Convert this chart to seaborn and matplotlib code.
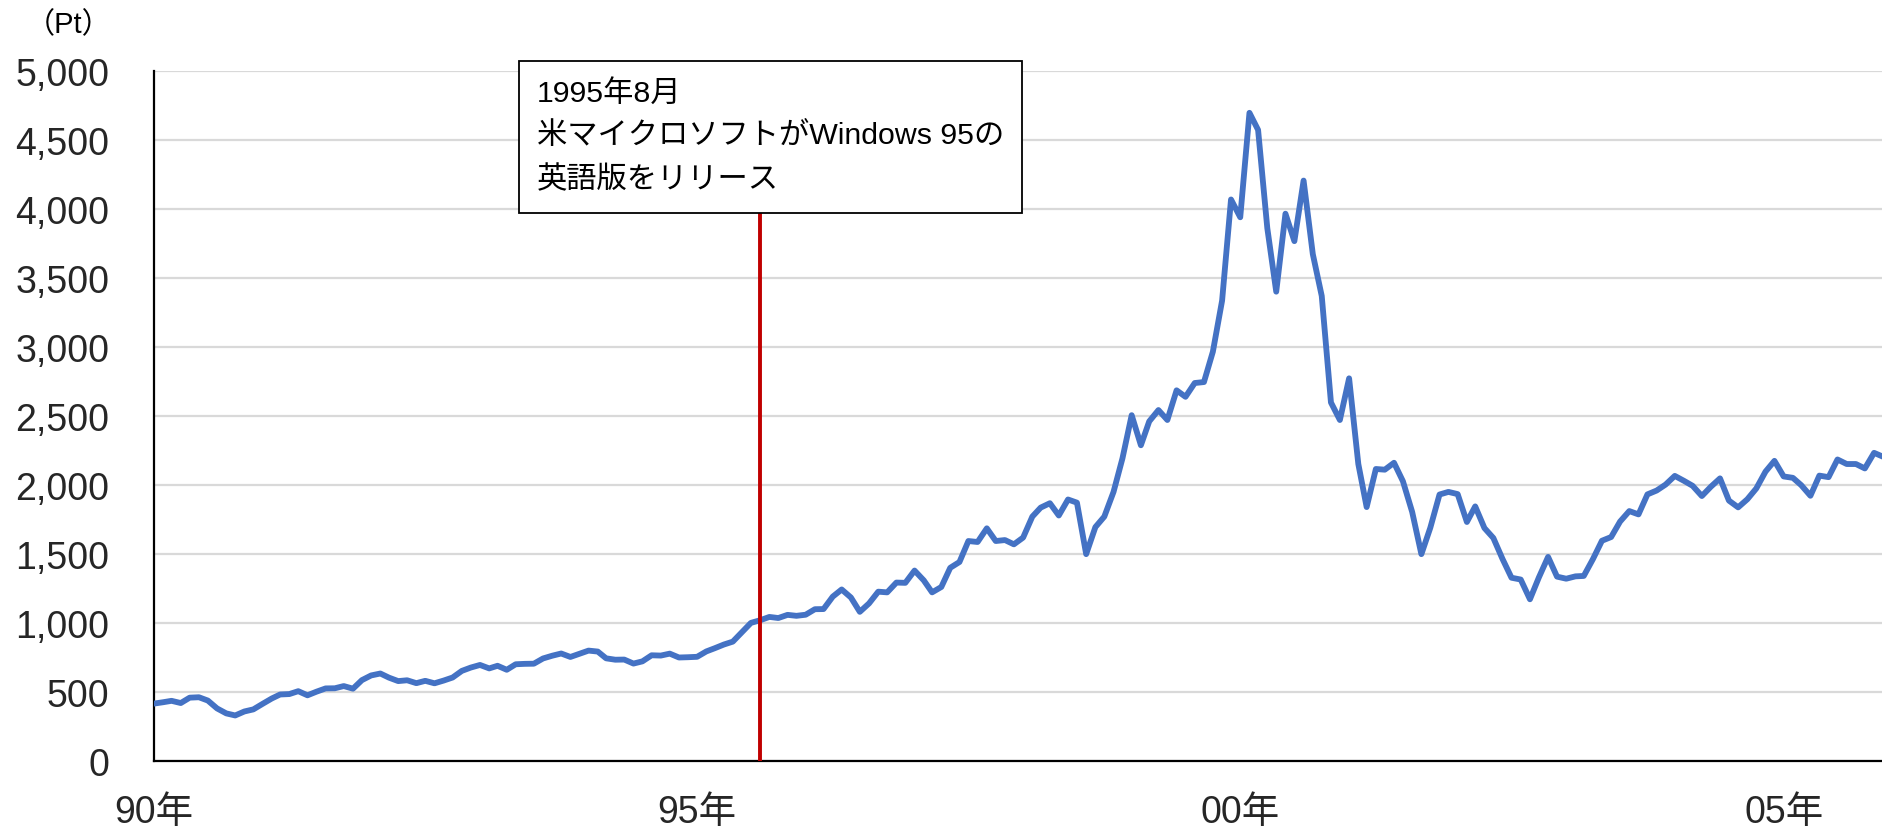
import matplotlib
matplotlib.use("Agg")
from matplotlib import pyplot as plt
from matplotlib.patches import Rectangle
import pandas as pd
import seaborn as sns

# NASDAQ composite, monthly close, Jan 1990 - Dec 2005 (Pt)
nasdaq_1990 = [416, 426, 436, 420, 459, 462, 438, 381, 345, 330, 359, 374]
nasdaq_1991 = [414, 453, 482, 485, 506, 476, 502, 526, 527, 543, 524, 586]
nasdaq_1992 = [620, 634, 604, 579, 585, 564, 581, 563, 583, 605, 653, 677]
nasdaq_1993 = [696, 671, 690, 661, 701, 704, 705, 743, 763, 779, 754, 777]
nasdaq_1994 = [800, 793, 744, 734, 735, 706, 722, 766, 764, 778, 750, 752]
nasdaq_1995 = [755, 794, 817, 844, 865, 934, 1001, 1020, 1044, 1036, 1059, 1052]
nasdaq_1996 = [1060, 1100, 1101, 1191, 1243, 1185, 1081, 1142, 1227, 1222, 1293, 1291]
nasdaq_1997 = [1380, 1309, 1222, 1261, 1400, 1442, 1594, 1587, 1686, 1594, 1601, 1570]
nasdaq_1998 = [1619, 1771, 1836, 1868, 1779, 1895, 1872, 1499, 1695, 1771, 1950, 2193]
nasdaq_1999 = [2506, 2288, 2461, 2543, 2471, 2686, 2639, 2739, 2746, 2966, 3336, 4069]
nasdaq_2000 = [3940, 4697, 4573, 3861, 3401, 3966, 3767, 4206, 3673, 3370, 2598, 2471]
nasdaq_2001 = [2773, 2152, 1840, 2116, 2111, 2161, 2027, 1805, 1499, 1690, 1931, 1950]
nasdaq_2002 = [1934, 1732, 1845, 1688, 1616, 1463, 1328, 1315, 1172, 1330, 1479, 1336]
nasdaq_2003 = [1321, 1338, 1341, 1464, 1596, 1623, 1735, 1811, 1787, 1932, 1960, 2003]
nasdaq_2004 = [2066, 2030, 1994, 1920, 1987, 2048, 1887, 1838, 1897, 1975, 2097, 2175]
nasdaq_2005 = [2062, 2052, 1999, 1922, 2068, 2057, 2185, 2152, 2152, 2120, 2233, 2205]

nasdaq = (nasdaq_1990 + nasdaq_1991 + nasdaq_1992 + nasdaq_1993 + nasdaq_1994
          + nasdaq_1995 + nasdaq_1996 + nasdaq_1997 + nasdaq_1998 + nasdaq_1999
          + nasdaq_2000 + nasdaq_2001 + nasdaq_2002 + nasdaq_2003 + nasdaq_2004
          + nasdaq_2005)

x_ticks = ["1990-01-01", "1995-01-01", "2000-01-01", "2005-01-01"]
x_tick_labels = ["90年", "95年", "00年", "05年"]
y_ticks = [0, 500, 1000, 1500, 2000, 2500, 3000, 3500, 4000, 4500, 5000]
y_tick_labels = [f"{v:,}" for v in y_ticks]

event_date = "1995-08-01"
event_lines = ["1995年8月", "米マイクロソフトがWindows 95の", "英語版をリリース"]
unit_label = "（Pt）"

df = pd.DataFrame({
    "month": pd.date_range("1990-01-01", periods=len(nasdaq), freq="MS"),
    "value": nasdaq,
})

sns.set_style("white")
plt.rcParams["font.family"] = ["Liberation Sans", "Noto Sans CJK JP"]

W, H = 1883, 829
fig = plt.figure(figsize=(W / 100, H / 100), dpi=100)
ax_left, ax_right, ax_top, ax_bottom = 154, 1883, 72, 762
ax = fig.add_axes([ax_left / W, 1 - ax_bottom / H,
                   (ax_right - ax_left) / W, (ax_bottom - ax_top) / H])

ax.yaxis.grid(True, color="#D9D9D9", linewidth=1.6, zorder=0)
ax.xaxis.grid(False)

sns.lineplot(data=df, x="month", y="value", color="#4472C4", linewidth=4.2,
             ax=ax, zorder=3)

ax.set_xlim(df["month"].iloc[0], df["month"].iloc[-1])
ax.set_ylim(0, 5000)
ax.set_xticks(pd.to_datetime(x_ticks))
ax.set_xticklabels(x_tick_labels)
ax.set_yticks(y_ticks)
ax.set_yticklabels(y_tick_labels)
ax.set_xlabel("")
ax.set_ylabel("")

for side in ["top", "right"]:
    ax.spines[side].set_visible(False)
for side in ["left", "bottom"]:
    ax.spines[side].set_color("black")
    ax.spines[side].set_linewidth(1.6)

ax.tick_params(axis="y", direction="out", length=11, width=1.6, color="black",
               labelsize=27, pad=21)
ax.tick_params(axis="x", direction="out", length=12, width=1.6, color="black",
               labelsize=27, pad=12)

# annotation box (axes fraction)
box_l = (519 - ax_left) / (ax_right - ax_left)
box_r = (1022 - ax_left) / (ax_right - ax_left)
box_b = (ax_bottom - 214) / (ax_bottom - ax_top)
box_t = (ax_bottom - 62) / (ax_bottom - ax_top)

ax.axvline(pd.Timestamp(event_date), ymin=0, ymax=box_b, color="#C00000",
           linewidth=2.8, zorder=4)

ax.add_patch(Rectangle((box_l, box_b), box_r - box_l, box_t - box_b,
                       transform=ax.transAxes, facecolor="white",
                       edgecolor="black", linewidth=1.3, clip_on=False, zorder=5))
line_px = [94, 136, 180]
for txt, py in zip(event_lines, line_px):
    ax.text(box_l + 18 / (ax_right - ax_left),
            (ax_bottom - py) / (ax_bottom - ax_top), txt,
            transform=ax.transAxes, ha="left", va="center", fontsize=21.8,
            color="black", zorder=6, clip_on=False)

fig.text(69 / W, 1 - 25 / H, unit_label, ha="center", va="center",
         fontsize=21, color="black")

fig.savefig("out.png", dpi=100)
